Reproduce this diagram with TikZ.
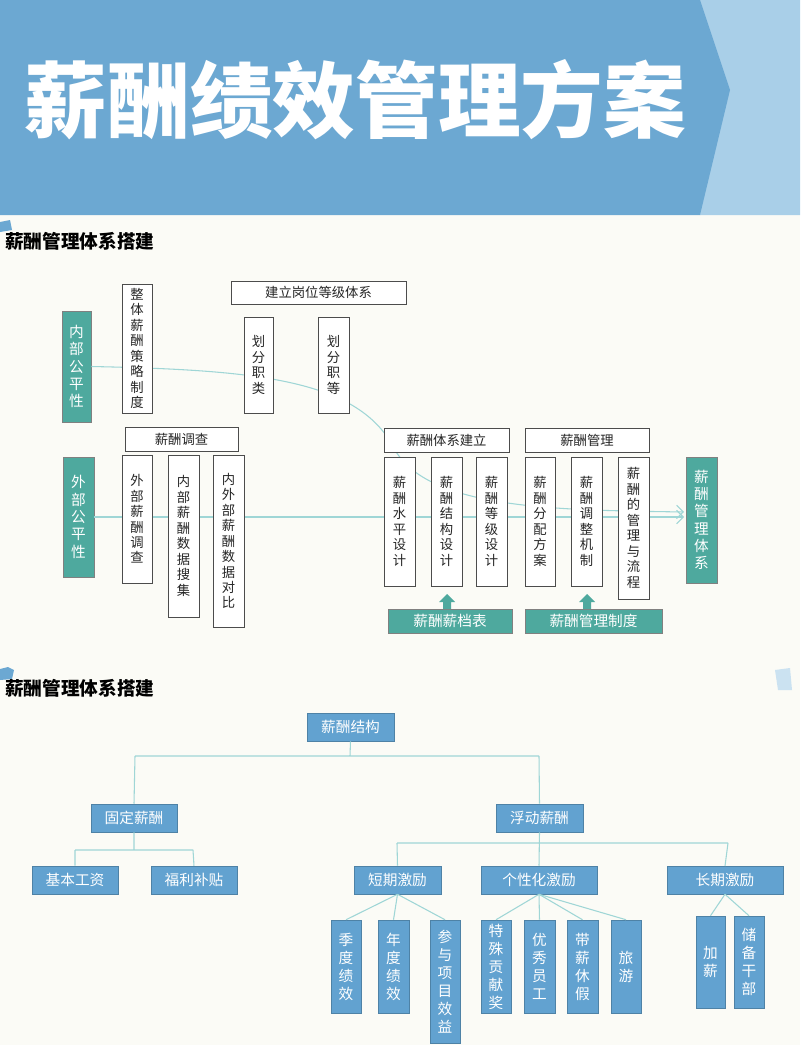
\documentclass[tikz,border=0pt]{standalone}
\usepackage{fontspec}
\setmainfont{Noto Sans CJK SC}
\usetikzlibrary{arrows.meta}
\definecolor{bg}{HTML}{FBFBF6}
\definecolor{band}{HTML}{6CA8D2}
\definecolor{bandl}{HTML}{A9CFE8}
\definecolor{teal}{HTML}{4EA99E}
\definecolor{bl}{HTML}{62A2D0}
\definecolor{ln}{HTML}{9FD6D6}
\newcommand\bx[7]{\node[#6,minimum width={(#4-#2)*0.75pt},minimum height={(#5-#3)*0.75pt}] (#1) at ({(#2+#4)/2},{(#3+#5)/2}) {#7};}
\begin{document}
\begin{tikzpicture}[x=0.75pt,y=-0.75pt,
 wb/.style={draw=black!70,fill=white,inner sep=0pt,align=center,font=\fontsize{10}{11.6}\selectfont,text=black!85},
 tb/.style={draw=black!50,fill=teal,inner sep=0pt,align=center,font=\fontsize{11}{13}\selectfont,text=white},
 bb/.style={draw=bl!80!black,fill=bl,inner sep=0pt,align=center,font=\fontsize{11}{13.5}\selectfont,text=white},
 cn/.style={draw=ln,line width=0.8pt},
 upar/.style={fill=teal}]
\useasboundingbox (0,0) rectangle (800,1045);
\fill[bg] (0,0) rectangle (800,1045);
% header
\fill[bandl] (640,0) -- (800,0) -- (800,215) -- (700,215) -- cycle;
\fill[band] (0,0) -- (700,0) -- (730,90) -- (700,215) -- (0,215) -- cycle;
\node[anchor=west,text=white,font=\fontsize{62}{66}\selectfont\bfseries] (title) at (20,100) {薪酬绩效管理方案};
% section 1
\fill[band] (0,222) -- (10,220) -- (12,230) -- (0,232) -- cycle;
\node[anchor=west,font=\fontsize{14}{16}\selectfont\bfseries,inner sep=0] (s1) at (5,241) {薪酬管理体系搭建};
% lines
\bx{ig}{62}{311}{91}{422}{tb}{内\\部\\公\\平\\性}
\bx{eg}{63}{457}{94}{577}{tb}{外\\部\\公\\平\\性}
\bx{sys}{686}{457}{717}{583}{tb}{薪\\酬\\管\\理\\体\\系}
\draw[cn,-{Straight Barb[length=5pt]}] (ig.east) .. controls (260,370) and (360,380) .. (395,450) .. controls (430,510) and (560,510) .. (684,512);
\draw[cn,-{Straight Barb[length=5pt]}] (eg.east) -- (684,517);
\bx{zt}{122}{284}{152}{413}{wb}{整\\体\\薪\\酬\\策\\略\\制\\度}
\bx{jl}{231}{281}{406}{304}{wb}{建立岗位等级体系}
\bx{hl}{244}{317}{273}{413}{wb}{划\\分\\职\\类}
\bx{hd}{318}{317}{349}{413}{wb}{划\\分\\职\\等}
\bx{dc}{125}{427}{238}{451}{wb}{薪酬调查}
\bx{w1}{122}{455}{152}{583}{wb}{外\\部\\薪\\酬\\调\\查}
\bx{w2}{168}{455}{199}{617}{wb}{内\\部\\薪\\酬\\数\\据\\搜\\集}
\bx{w3}{213}{455}{244}{627}{wb}{内\\外\\部\\薪\\酬\\数\\据\\对\\比}
\bx{tx}{384}{428}{509}{452}{wb}{薪酬体系建立}
\bx{gl}{525}{428}{649}{452}{wb}{薪酬管理}
\bx{v1}{384}{457}{415}{586}{wb}{薪\\酬\\水\\平\\设\\计}
\bx{v2}{431}{457}{462}{586}{wb}{薪\\酬\\结\\构\\设\\计}
\bx{v3}{476}{457}{507}{586}{wb}{薪\\酬\\等\\级\\设\\计}
\bx{v4}{525}{457}{555}{586}{wb}{薪\\酬\\分\\配\\方\\案}
\bx{v5}{571}{457}{602}{586}{wb}{薪\\酬\\调\\整\\机\\制}
\bx{v6}{618}{457}{649}{599}{wb}{薪\\酬\\的\\管\\理\\与\\流\\程}
\bx{dd}{388}{609}{512}{633}{tb}{薪酬薪档表}
\bx{zd}{525}{609}{662}{633}{tb}{薪酬管理制度}
\fill[upar] (443,609) -- (443,602) -- (439,602) -- (447,594) -- (455,602) -- (451,602) -- (451,609) -- cycle;
\fill[upar] (583,609) -- (583,602) -- (579,602) -- (587,594) -- (595,602) -- (591,602) -- (591,609) -- cycle;
% section 2
\fill[band] (0,669) -- (8,667) -- (14,670) -- (12,679) -- (0,680) -- cycle;
\fill[bandl!60] (775,670) -- (790,668) -- (792,690) -- (778,690) -- cycle;
\node[anchor=west,font=\fontsize{14}{16}\selectfont\bfseries,inner sep=0] (s2) at (5,688) {薪酬管理体系搭建};
\bx{root}{307}{713}{394}{741}{bb}{薪酬结构}
\bx{gd}{91}{804}{177}{832}{bb}{固定薪酬}
\bx{fd}{496}{804}{583}{832}{bb}{浮动薪酬}
\draw[cn] (root.south) -- (350,756) (135,756) -- (539,756) (135,756) -- (gd.north) (539,756) -- (fd.north);
\bx{jb}{32}{866}{118}{894}{bb}{基本工资}
\bx{fl}{151}{866}{237}{894}{bb}{福利补贴}
\draw[cn] (gd.south) -- (134,850) (75,850) -- (193,850) (75,850) -- (jb.north) (193,850) -- (fl.north);
\bx{dq}{354}{866}{441}{894}{bb}{短期激励}
\bx{gx}{481}{866}{597}{894}{bb}{个性化激励}
\bx{cq}{667}{866}{783}{894}{bb}{长期激励}
\draw[cn] (fd.south) -- (gx.north) (397,843) -- (728,843) (397,843) -- (dq.north) (728,843) -- (725,866);
\bx{a1}{331}{920}{361}{1013}{bb}{季\\度\\绩\\效}
\bx{a2}{378}{920}{409}{1013}{bb}{年\\度\\绩\\效}
\bx{a3}{430}{920}{460}{1043}{bb}{参\\与\\项\\目\\效\\益}
\bx{b1}{481}{920}{511}{1013}{bb}{特\\殊\\贡\\献\\奖}
\bx{b2}{524}{920}{555}{1013}{bb}{优\\秀\\员\\工}
\bx{b3}{567}{920}{598}{1013}{bb}{带\\薪\\休\\假}
\bx{b4}{611}{920}{641}{1013}{bb}{旅\\游}
\bx{c1}{696}{916}{725}{1008}{bb}{加\\薪}
\bx{c2}{734}{916}{764}{1008}{bb}{储\\备\\干\\部}
\foreach \t in {a1,a2,a3} \draw[cn] (dq.south) -- (\t.north);
\foreach \t in {b1,b2,b3,b4} \draw[cn] (gx.south) -- (\t.north);
\foreach \t in {c1,c2} \draw[cn] (cq.south) -- (\t.north);
\end{tikzpicture}
\end{document}
